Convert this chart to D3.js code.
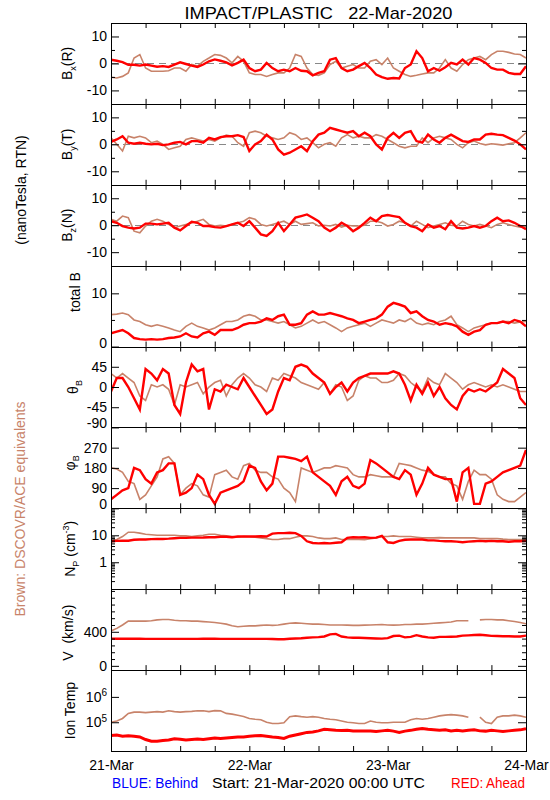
<!DOCTYPE html>
<html>
<head>
<meta charset="utf-8">
<script src="https://cdnjs.cloudflare.com/ajax/libs/d3/7.8.5/d3.min.js"></script>
<style>
html,body{margin:0;padding:0;background:#fff;}
svg{display:block;}
text{font-family:"Liberation Sans",Arial,sans-serif;white-space:pre;}
</style>
</head>
<body>
<svg id="chart" width="550" height="800"></svg>
<script>
// ================= DATA (hourly samples, 21-Mar-2020 00:00 UTC .. 24-Mar 00:00) =================
const startTime = "2020-03-21T00:00:00Z";
const sampleHours = d3.range(0, 73);
const dayLabels = ["21-Mar", "22-Mar", "23-Mar", "24-Mar"];
const titleText = "IMPACT/PLASTIC   22-Mar-2020";

const bxAhead = [1.4,1,0.5,-0.5,-0.5,-0.8,-0.4,-0.8,-1.2,-1,-1.3,-0.4,0.4,-0.2,-0.8,-1.3,-0.4,0.8,1.5,1,0.4,-0.7,0.2,1.4,-1.7,-2.9,-2.3,0.2,-1.7,-2.9,-2.3,-2.9,-1.7,-2.7,-2.9,-4.4,-3.5,-2.9,1.4,2,-1.7,-2.9,-2.3,-1,0.2,-1.7,-4.1,-5.1,-5.7,-5.4,-5.6,-1.7,-0.4,4.5,2,-2.9,-1.7,-2.7,-1.4,0.2,-0.4,1.4,-0.4,2,1.4,0.2,-1.7,-2.3,-2.3,-3.5,-3.9,-3.9,-1];
const bxBehind = [-5.1,-5.4,-4.8,-3.5,2,3.3,-1.7,-2.9,-2.9,-2.9,-2.7,-1.7,-1.7,-2.9,-0.4,-1,0.8,2,3.3,3,2,0.2,2.6,0.8,-3.5,-4.1,-4.1,-4.8,-4.1,-3.5,-3.5,-1.7,3.3,2.6,-1.7,-4.1,-4.4,-3.5,-0.4,0.8,-1.7,-1,-0.4,-1.7,-1.7,0.8,1.4,-0.4,2,-1.7,-2.9,-4.1,-4.8,-4.4,-3.9,-3.5,-3.5,-1.7,1.4,-1.7,-2.9,-0.4,1.4,2,2.6,1.4,3.3,4.5,4.5,4.1,3.5,3.3,2];

const byAhead = [0.9,1.8,3,0.6,0.2,0.6,0.2,0,0.2,-0.3,0,0.6,0.9,0,1.2,1.2,0.6,2.4,1.8,2.7,3,3,3.4,2.7,-2.5,0,1.2,3.6,1.8,-1.9,-3.8,-3.1,-1.9,-0.7,-2.5,1.2,3.6,4.3,6.1,5.5,4.9,4.3,4.9,3,4.3,3,0,-1.9,2.4,4.3,2.4,4.3,4.9,1.2,0.6,3.6,1.8,0.6,2.4,3.6,2.4,1.2,0.9,1.8,1.8,3.6,3.9,3.6,3.4,2.4,1.4,0,-1.9];
const byBehind = [2.4,0,-2.5,3,2.4,3,2.4,0.6,1.2,0,-1.9,-1.3,-0.7,1.8,2.4,1.8,1.2,1.8,1.2,2.4,3.4,3,0.6,-0.7,4.3,4.9,4.3,3,2.4,1.8,2.4,4.3,3.6,1.8,2.4,0.6,-1.3,0,0.6,-0.7,2.4,3.6,2.4,3,2.4,2.4,3.6,3,1.8,0.6,-0.7,-1.3,-0.7,-0.7,2.4,0.6,2.4,3,2.4,1.8,0,-1.3,0.6,1.2,0.3,-0.2,0.2,0,-0.3,0.2,0.6,2.4,4.3];

const bzAhead = [1.5,0.9,-0.3,-0.9,-1.2,-0.9,0.6,0.6,0.3,0.6,0.9,-0.9,-1.9,-0.3,1.3,0.9,-0.3,-0.3,-0.7,-0.9,-0.3,0.3,0.9,-0.3,1.5,-0.9,-3.4,-4,-2.2,0.9,-2.2,0.3,2.8,3.4,4,2.8,1.5,-0.9,-2.2,-0.9,0.9,-0.3,-2.2,-0.9,0.9,2.8,1.5,3.4,3.8,3.4,3,0.9,-0.3,-0.9,-2.2,0.3,-0.9,-0.3,-1.5,1.5,-0.9,-1.2,-0.9,-0.3,-0.9,-0.3,1.5,2.8,1.5,1.8,0.9,-0.3,-1.5];
const bzBehind = [2.2,1.5,3.4,2.8,-2.2,-2.8,-0.3,1.5,2.2,1.5,0.3,-0.9,-0.3,0.3,0.9,1.5,2.2,0.3,-0.3,0,-0.3,0.3,0.9,1.5,2.8,2.2,0.3,-0.3,0.3,0.9,1.5,0.3,1.5,0.3,0.6,0.9,-0.3,0,-0.3,0.3,-0.7,0,-0.3,-0.3,0,1.5,1.5,0.9,-0.3,0.3,1.5,0.9,-0.3,1.5,0.3,-0.9,-0.3,0.3,0.9,0,-0.3,1.5,0.3,-0.3,0.3,-0.3,-0.9,0.3,0.9,0.3,-0.3,-0.7,-0.7];

const btAhead = [2.5,2.8,3.1,2.5,1.6,1.4,1.3,1.4,1.3,1.4,1.6,1.7,1.9,2.5,1.9,1.7,2.5,2.8,2.2,3.1,3.1,3.1,3.5,4.1,4.4,4.4,4.7,5.3,5,5.7,6,4.1,4.1,4.4,6,6.6,6,6,6.3,6,5.7,5.3,5,4.4,4.7,5,5.3,6,7.5,8.2,7.9,7.5,6.3,6.6,5.7,5,4.7,4.1,4.4,4.2,3.8,2.8,2.2,2.8,3.1,4.1,4.4,4.4,4.7,4.4,5,4.7,3.8];
const btBehind = [6,6.1,6.3,6,5,4.7,4.1,3.8,4.1,3.8,3.5,3.1,2.8,3.8,4.4,3.8,3.5,3.1,3.5,4.1,4.7,4.7,5,5.7,6,5.7,5,5,4.7,4.4,4.7,4.1,3.5,3.8,4.4,5,4.4,4.7,4.1,3.5,2.8,3.5,3.8,4.1,4.4,3.8,4.4,5,4.7,4.4,5,4.7,5.3,4.4,4.1,4.4,4.1,4.7,5,5.7,4.1,3.5,2.8,3.5,3.8,4.1,4.4,4.4,4.7,4.7,4.4,4.6,4.7];

const thetaAhead = [-10,20,20,0,-25,-50,40,30,15,40,30,-40,-60,10,50,35,40,-50,-5,-10,5,0,-5,20,0,-20,-40,-60,-50,-10,20,15,45,50,45,30,20,10,-15,0,10,-10,10,20,25,30,30,30,30,35,30,5,-30,5,-15,10,-20,0,-25,-40,-50,-20,-5,-10,-5,-10,0,10,40,30,20,-25,-40];
const thetaBehind = [30,20,30,20,10,-20,-30,5,0,5,-5,-40,5,0,5,10,-15,0,10,15,-20,5,20,30,20,5,0,-10,20,15,30,25,20,10,5,0,-5,10,-15,5,0,-30,-20,15,25,20,20,10,10,15,30,25,10,0,-10,20,10,5,30,20,10,-5,5,10,5,0,5,0,5,0,-5,-10,-10];

const phiAhead = [40,60,80,90,180,170,130,110,160,170,200,200,60,70,90,150,130,60,20,70,80,90,100,120,190,180,120,80,110,230,230,225,220,210,230,160,140,120,100,60,120,140,100,90,110,215,200,180,160,140,130,170,150,60,110,180,150,140,130,130,30,160,180,20,20,110,120,140,160,170,180,190,260];
const phiBehind = [180,175,160,120,110,40,60,100,140,220,230,200,60,90,110,100,60,50,150,160,170,140,130,190,200,170,160,160,140,130,90,70,30,180,170,160,170,180,180,190,185,180,150,140,140,150,145,140,140,140,200,195,190,180,170,165,150,140,140,110,100,40,120,170,150,150,130,60,40,30,30,50,70];

const npAhead = [6.0,6.2,6.3,6.3,6.8,7.0,7.0,7.2,7.3,7.3,7.5,7.8,8.0,8.0,8.2,8.2,8.3,8.5,8.5,8.8,8.8,8.5,9.0,9.0,9.0,9.0,9.2,9.0,11.5,12.0,12.0,12.5,12.0,9.5,6.0,5.2,5.0,5.2,5.0,5.3,5.5,8.0,8.5,8.3,8.5,8.0,8.2,9.5,5.5,5.2,6.2,6.8,7.0,7.0,7.0,6.5,6.5,6.2,6.0,6.0,5.8,5.5,5.8,6.0,6.2,6.0,6.2,6.0,6.0,5.8,6.0,6.0,6.2];
const npBehind = [6.0,7.0,9.0,13.0,13.0,12.0,11.0,10.5,10.0,10.0,10.0,10.0,9.5,9.5,9.0,9.5,10.0,11.0,11.0,10.0,9.5,9.0,8.5,9.0,8.8,8.5,8.0,7.5,7.0,7.0,7.5,7.5,8.5,9.5,9.5,9.0,8.0,7.5,7.5,8.0,7.0,7.0,7.0,7.0,6.8,7.5,8.0,9.0,9.0,9.5,9.0,9.0,9.0,8.5,8.0,8.0,8.0,8.2,8.0,8.0,8.0,8.0,8.0,8.0,7.5,7.5,7.5,7.5,7.2,7.0,7.0,7.0,7.0];

const vAhead = [320,318,318,318,318,318,317,317,317,317,317,317,317,317,317,317,318,318,318,317,317,317,317,317,317,317,317,317,315,312,313,318,322,325,330,335,338,345,370,375,345,335,330,330,328,325,322,320,325,350,355,335,340,360,345,335,330,340,340,342,345,355,358,362,365,360,352,350,348,348,345,345,355];
const vBehind = [410,440,480,525,525,525,525,530,540,545,545,535,530,530,525,525,520,515,510,500,490,470,460,465,470,470,475,480,475,480,490,500,505,500,495,490,490,485,480,480,480,478,475,475,478,480,482,485,480,478,480,485,485,490,490,495,500,505,510,515,530,530,530,null,540,545,545,540,540,530,520,510,495];

const tempAhead = [30200,31600,28200,29500,28200,26300,20900,17800,17800,19100,20000,22400,21400,20000,20900,21900,20900,22400,24000,22900,24000,25100,26300,26300,28200,29500,30200,28200,26300,25100,22900,28200,31600,35500,39800,41700,45700,52500,50100,47900,46800,47900,45700,44700,45700,44700,43600,45700,47900,44700,39800,44700,47900,52500,56200,52500,50100,47900,50100,45700,47900,45700,47900,50100,45700,44700,47900,45700,43600,45700,47900,50100,56200];
const tempBehind = [100000,112000,141000,224000,251000,251000,240000,251000,263000,251000,282000,263000,251000,263000,269000,282000,282000,263000,288000,282000,224000,209000,190000,170000,141000,132000,126000,100000,89000,89000,95500,166000,178000,166000,158000,166000,158000,141000,132000,126000,112000,100000,95500,89000,89000,112000,100000,95500,95500,100000,100000,100000,126000,141000,132000,141000,158000,178000,191000,200000,191000,178000,158000,null,158000,100000,89000,158000,178000,178000,191000,178000,158000];

// tick values
const bTicks = [-10, 0, 10], bMinor = [-5, 5];
const btTicks = [0, 10], btMinor = [5];
const thetaTicks = [-90, -45, 0, 45];
const phiTicks = [0, 90, 180, 270];
const npTicks = [1, 10], npMinor = [0.2,0.3,0.4,0.5,0.6,0.7,0.8,0.9,2,3,4,5,6,7,8,9,20,30,40,50,60,70,80,90];
const vTicks = [0, 400], vMinor = [80,160,240,320,480,560,640,720,800,880];
const tempTicks = [1e5, 1e6];

// ================= DRAWING =================
const RED = "#ff0000", BROWN = "#c8836a";
const svg = d3.select("#chart");
const defs = svg.append("defs");
const L = 111, R = 526, T = 23, B = 751;
const nP = 9, ph = (B - T) / nP;
const t0 = new Date(startTime);
const times = sampleHours.map(h => d3.utcHour.offset(t0, h));
const x = d3.scaleUtc().domain([t0, d3.utcDay.offset(t0, 3)]).range([L, R]);

const panels = [
  {label:[["B"],["x","sub"],["(R)"]], type:"lin", domain:[-15,15], major:bTicks, minor:bMinor, zero:true, a:bxAhead, b:bxBehind, lx:72},
  {label:[["B"],["y","sub"],["(T)"]], type:"lin", domain:[-15,15], major:bTicks, minor:bMinor, zero:true, a:byAhead, b:byBehind, lx:72},
  {label:[["B"],["z","sub"],["(N)"]], type:"lin", domain:[-15,15], major:bTicks, minor:bMinor, zero:true, a:bzAhead, b:bzBehind, lx:72},
  {label:[["total B"]], type:"lin", domain:[0,15.2], major:btTicks, minor:btMinor, a:btAhead, b:btBehind, lx:80, ly:-14},
  {label:[["θ"],["B","sub"]], type:"lin", domain:[-90,90], major:thetaTicks, minor:[], a:thetaAhead, b:thetaBehind, lx:78},
  {label:[["φ"],["B","sub"]], type:"lin", domain:[0,360], major:phiTicks, minor:[], a:phiAhead, b:phiBehind, lx:75, ly:-5},
  {label:[["N"],["P","sub"],[" (cm"],["-3","sup"],[")"]], type:"log", domain:[0.1,100], major:npTicks, minor:npMinor, a:npAhead, b:npBehind, lx:75},
  {label:[["V  (km/s)"]], type:"lin", domain:[-50,900], major:vTicks, minor:vMinor, a:vAhead, b:vBehind, lx:73, ly:3},
  {label:[["Ion Temp"]], type:"log", domain:[7360,11350000], major:tempTicks, minor:[], exp:true, a:tempAhead, b:tempBehind, lx:75, redW:3}
];

const FS = 14;
panels.forEach((p, i) => {
  const top = T + i * ph, bot = top + ph;
  const y = (p.type === "log" ? d3.scaleLog() : d3.scaleLinear()).domain(p.domain).range([bot, top]);
  const g = svg.append("g");
  const cid = "clip" + i;
  defs.append("clipPath").attr("id", cid).append("rect")
    .attr("x", L).attr("y", top).attr("width", R - L).attr("height", ph);
  const dg = g.append("g").attr("clip-path", `url(#${cid})`);
  if (p.zero) {
    dg.append("line").attr("x1", L).attr("x2", R)
      .attr("y1", Math.round(y(0)) + 0.5).attr("y2", Math.round(y(0)) + 0.5)
      .attr("stroke", "#888").attr("stroke-width", 1).attr("stroke-dasharray", "7,5");
  }
  const line = d3.line().defined(d => d[1] != null).x(d => x(d[0])).y(d => y(d[1]));
  dg.append("path").datum(times.map((t, k) => [t, p.b[k]])).attr("d", line)
    .attr("fill", "none").attr("stroke", BROWN).attr("stroke-width", 1.6);
  dg.append("path").datum(times.map((t, k) => [t, p.a[k]])).attr("d", line)
    .attr("fill", "none").attr("stroke", RED).attr("stroke-width", p.redW || 2.4)
    .attr("stroke-linejoin", "miter");

  // frame
  g.append("rect").attr("x", L + 0.5).attr("y", Math.round(top) + 0.5)
    .attr("width", R - L).attr("height", Math.round(bot) - Math.round(top))
    .attr("fill", "none").attr("stroke", "#000").attr("stroke-width", 1);

  const fmt = p.exp ? (d => "10") : (d => String(d));
  const axL = g.append("g").attr("transform", `translate(${L},0)`)
    .call(d3.axisLeft(y).tickValues(p.major).tickSize(-8).tickPadding(4).tickFormat(fmt));
  g.append("g").attr("transform", `translate(${L},0)`)
    .call(d3.axisLeft(y).tickValues(p.minor).tickSize(-4).tickFormat(""));
  g.append("g").attr("transform", `translate(${R},0)`)
    .call(d3.axisRight(y).tickValues(p.major).tickSize(-8).tickFormat(""));
  g.append("g").attr("transform", `translate(${R},0)`)
    .call(d3.axisRight(y).tickValues(p.minor).tickSize(-4).tickFormat(""));
  g.append("g").attr("transform", `translate(0,${bot})`)
    .call(d3.axisBottom(x).ticks(d3.utcHour.every(6)).tickSize(-5).tickFormat(""));
  g.append("g").attr("transform", `translate(0,${top})`)
    .call(d3.axisTop(x).ticks(d3.utcHour.every(6)).tickSize(-5).tickFormat(""));
  g.selectAll(".domain").remove();
  g.selectAll(".tick line").attr("stroke", "#000");
  axL.selectAll("text").attr("font-size", FS).attr("font-family", "Liberation Sans, Arial, sans-serif").attr("fill", "#000")
    .each(function(d) {
      const t = d3.select(this);
      if (Math.abs(y(d) - bot) < 1.5) t.attr("y", -4);
      if (p.exp) {
        t.append("tspan").attr("font-size", 10).attr("dy", "-0.55em").text(String(Math.round(Math.log10(d))));
      }
    });

  // panel label (rotated)
  const lbl = g.append("text")
    .attr("transform", `translate(${p.lx},${(top + bot) / 2 + (p.ly || 0)}) rotate(-90)`)
    .attr("text-anchor", "middle").attr("font-size", FS).attr("fill", "#000");
  let shift = 0;
  p.label.forEach(([s, kind]) => {
    const ts = lbl.append("tspan").text(s);
    if (kind === "sub") { ts.attr("font-size", 9).attr("dy", 4 - shift); shift = 4; }
    else if (kind === "sup") { ts.attr("font-size", 9).attr("dy", -6 - shift); shift = -6; }
    else { if (shift !== 0) ts.attr("dy", -shift); shift = 0; }
  });
});

// bottom date labels
svg.append("g").attr("transform", `translate(0,${B})`)
  .call(d3.axisBottom(x).tickValues(d3.utcDay.range(t0, d3.utcDay.offset(t0, 4)))
    .tickSize(0).tickPadding(9).tickFormat((d, k) => dayLabels[k]))
  .call(a => a.select(".domain").remove())
  .selectAll("text").attr("font-size", FS).attr("fill", "#000")
  .attr("font-family", "Liberation Sans, Arial, sans-serif");

// title
svg.append("text").attr("x", (L + R) / 2).attr("y", 19).attr("text-anchor", "middle")
  .attr("font-size", 17).attr("textLength", 268).attr("lengthAdjust", "spacingAndGlyphs").text(titleText);

// left side notes
svg.append("text").attr("transform", "translate(26,190) rotate(-90)").attr("text-anchor", "middle")
  .attr("font-size", FS).attr("fill", "#000").text("(nanoTesla, RTN)");
svg.append("text").attr("transform", "translate(25,509) rotate(-90)").attr("text-anchor", "middle")
  .attr("font-size", FS).attr("fill", BROWN).attr("textLength", 215).attr("lengthAdjust", "spacingAndGlyphs")
  .text("Brown: DSCOVR/ACE equivalents");

// footer
svg.append("text").attr("x", 112).attr("y", 788).attr("font-size", FS).attr("fill", "#0000ff")
  .attr("textLength", 86).attr("lengthAdjust", "spacingAndGlyphs").text("BLUE: Behind");
svg.append("text").attr("x", 212).attr("y", 788).attr("font-size", FS).attr("fill", "#000")
  .attr("textLength", 213).attr("lengthAdjust", "spacingAndGlyphs").text("Start: 21-Mar-2020 00:00 UTC");
svg.append("text").attr("x", 451).attr("y", 788).attr("font-size", FS).attr("fill", RED)
  .attr("textLength", 74).attr("lengthAdjust", "spacingAndGlyphs").text("RED: Ahead");
</script>
</body>
</html>
